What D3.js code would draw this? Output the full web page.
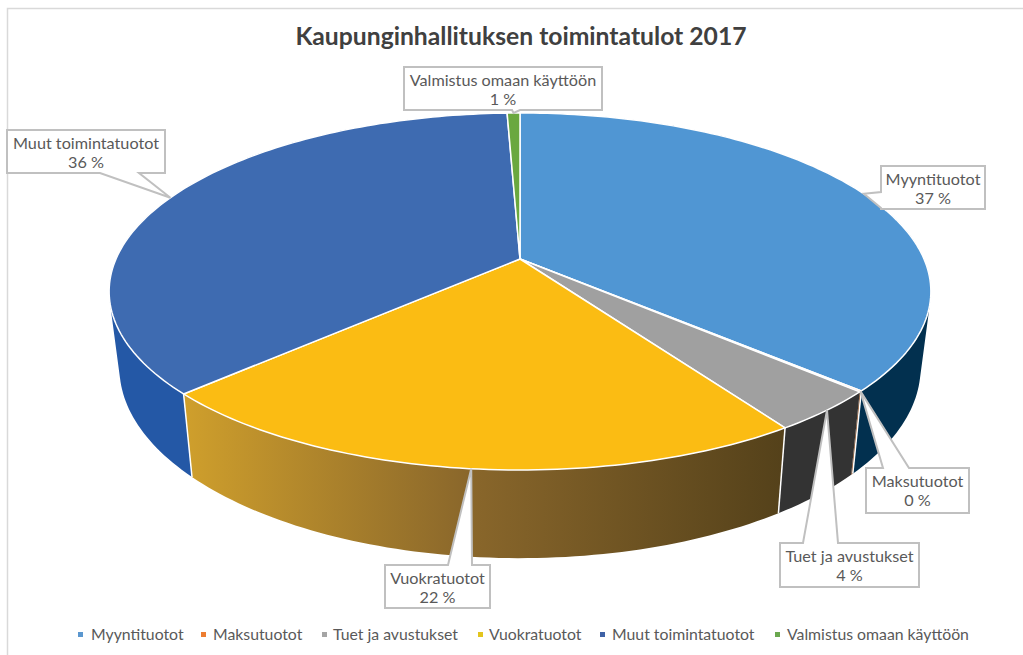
<!DOCTYPE html>
<html lang="fi">
<head>
<meta charset="utf-8">
<title>Kaupunginhallituksen toimintatulot 2017</title>
<script src="https://cdn.jsdelivr.net/npm/d3@7"></script>
<style>
  html, body { margin: 0; padding: 0; background: #fff; overflow: hidden; }
  text { font-family: Lato, "Open Sans", sans-serif; }
</style>
</head>
<body>
<div id="content"></div>
<script>
const titleText = 'Kaupunginhallituksen toimintatulot 2017';
const categories = ['Myyntituotot', 'Maksutuotot', 'Tuet ja avustukset', 'Vuokratuotot', 'Muut toimintatuotot', 'Valmistus omaan käyttöön'];
const values = [36.7, 0.1, 3.8, 22.4, 36.4, 0.6];

const topColors = ['#5096d3', '#ed7d31', '#a0a0a0', '#fbbc13', '#3e6bb1', '#6aa83f'];
const wallColors = ['#02304f', '#8a4a1c', '#333333', 'url(#wallYellow)', '#2458a6', '#3f6a25'];
const legendColors = ['#5b97cf', '#ed7d31', '#a5a5a5', '#e3c51e', '#3f62a6', '#6aa84f'];

// Laatikot: [x0, y0, x1, y1], ja osoittimen tyvi [xa, ya, xb, yb]
const labelBoxes = [
    [881, 166, 985, 209],
    [866, 468, 969, 513],
    [780, 543, 919, 587],
    [385, 565, 490, 608],
    [7, 130, 165, 173],
    [404, 67, 602, 110]
];
const pointerBases = [
    [881, 192, 881, 208],
    [883, 468, 909, 468],
    [803, 543, 838, 543],
    [448, 565, 472, 565],
    [100, 173, 139, 173],
    [512, 110, 520, 110]
];
// Osoittimen karki palan kulmavalilla
const pointerShare = [0.5, 0.5, 0.48, 0.49, 0.5, 0.5];
const legendMarkerX = [78, 201, 322, 478, 600, 775];
const legendTextX = [91, 213, 333, 489, 612, 787];

const width = 1023;
const height = 655;

// Perspektiivi: piirakan keskipiste on (cx, cy), reuna on ellipsi
const cx = 520, cy = 259;
const scaleX = 404, scaleY = 172.6, tilt = 0.182;
const wallShrinkX = 0.975, wallStretchY = 1.067, wallDrop = 74;

const project = angle => {
    const u = Math.sin(angle);
    const v = -Math.cos(angle);
    const w = 1 - tilt * v;
    return [cx + scaleX * u / w, cy + scaleY * v / w];
};
const lower = p => [cx + (p[0] - cx) * wallShrinkX, cy + (p[1] - cy) * wallStretchY + wallDrop];

const arcPoints = (a0, a1) => {
    const n = Math.max(2, Math.ceil((a1 - a0) / 0.02));
    return d3.range(n + 1).map(i => project(a0 + (a1 - a0) * i / n));
};

const slices = d3.pie().sort(null).value(d => d)(values);

const svg = d3.select('#content')
    .append('svg')
    .attr('width', width)
    .attr('height', height)
    .style('display', 'block');

const grad = svg.append('defs').append('linearGradient')
    .attr('id', 'wallYellow')
    .attr('gradientUnits', 'userSpaceOnUse')
    .attr('x1', 185).attr('x2', 785)
    .attr('y1', 0).attr('y2', 0);
grad.append('stop').attr('offset', '0%').attr('stop-color', '#cf9f2c');
grad.append('stop').attr('offset', '47%').attr('stop-color', '#8a672b');
grad.append('stop').attr('offset', '100%').attr('stop-color', '#54411a');

// Kehys
svg.append('path')
    .attr('d', `M7.5,${height}V8.5H${width}`)
    .attr('fill', 'none')
    .attr('stroke', '#d9d9d9')
    .attr('stroke-width', 1.5);

// Sivuseinat, jokainen pala samaan suuntaan jotta taytto ei kumoudu
svg.append('g')
    .selectAll('path')
    .data(slices)
    .enter()
    .append('path')
    .attr('fill', (d, i) => wallColors[i])
    .attr('d', d => {
        const pts = arcPoints(d.startAngle, d.endAngle);
        return d3.pairs(pts).map(([a, b]) => {
            let quad = [a, b, lower(b), lower(a)];
            if (d3.polygonArea(quad) < 0) quad = quad.reverse();
            return 'M' + quad.join('L') + 'Z';
        }).join('');
    });

// Valkoiset saumat seinissa
svg.append('g')
    .selectAll('line')
    .data(slices.filter(d => Math.cos(d.endAngle) < 0 && d.value > 1))
    .enter()
    .append('line')
    .attr('x1', d => project(d.endAngle)[0])
    .attr('y1', d => project(d.endAngle)[1])
    .attr('x2', d => lower(project(d.endAngle))[0])
    .attr('y2', d => lower(project(d.endAngle))[1])
    .attr('stroke', '#fff')
    .attr('stroke-width', 1.5);

// Kansi
svg.append('g')
    .selectAll('path')
    .data(slices)
    .enter()
    .append('path')
    .attr('fill', (d, i) => topColors[i])
    .attr('stroke', '#fff')
    .attr('stroke-width', 1.5)
    .attr('stroke-linejoin', 'round')
    .attr('d', d => 'M' + cx + ',' + cy + 'L' + arcPoints(d.startAngle, d.endAngle).join('L') + 'Z');

// Otsikko
svg.append('text')
    .attr('x', 521)
    .attr('y', 45)
    .attr('text-anchor', 'middle')
    .attr('fill', '#404040')
    .style('font-size', '24.7px')
    .style('font-weight', 'bold')
    .text(titleText);

function pointerSide(i) {
    const box = labelBoxes[i];
    const base = pointerBases[i];
    if (base[1] === box[1]) return 'top';
    if (base[1] === box[3]) return 'bottom';
    return 'left';
}

// Selitelaatikot, osoitin kohti palan keskikulmaa
const callouts = svg.append('g')
    .selectAll('g')
    .data(slices)
    .enter()
    .append('g');

callouts.append('path')
    .attr('fill', '#fff')
    .attr('stroke', '#c0c0c0')
    .attr('stroke-width', 2)
    .attr('stroke-linejoin', 'miter')
    .attr('d', (d, i) => {
        const [x0, y0, x1, y1] = labelBoxes[i];
        const [xa, ya, xb, yb] = pointerBases[i];
        const tip = project(d.startAngle + (d.endAngle - d.startAngle) * pointerShare[i]);
        const side = pointerSide(i);
        if (side === 'top') {
            return `M${x0},${y0}H${xa}L${tip}L${xb},${yb}H${x1}V${y1}H${x0}Z`;
        }
        if (side === 'bottom') {
            return `M${x0},${y0}H${x1}V${y1}H${xb}L${tip}L${xa},${ya}H${x0}Z`;
        }
        return `M${x0},${y0}H${x1}V${y1}H${x0}V${yb}L${tip}L${xa},${ya}Z`;
    });

callouts.append('text')
    .attr('x', (d, i) => (labelBoxes[i][0] + labelBoxes[i][2]) / 2)
    .attr('y', (d, i) => labelBoxes[i][1] + 19)
    .attr('text-anchor', 'middle')
    .attr('fill', '#595959')
    .style('font-size', '16.2px')
    .text((d, i) => categories[i]);

callouts.append('text')
    .attr('x', (d, i) => (labelBoxes[i][0] + labelBoxes[i][2]) / 2)
    .attr('y', (d, i) => labelBoxes[i][1] + 38)
    .attr('text-anchor', 'middle')
    .attr('fill', '#595959')
    .style('font-size', '16.2px')
    .text(d => Math.round(d.value) + ' %');

// Selite
const legend = svg.append('g')
    .selectAll('g')
    .data(categories)
    .enter()
    .append('g');

legend.append('rect')
    .attr('x', (d, i) => legendMarkerX[i])
    .attr('y', 632)
    .attr('width', 5)
    .attr('height', 5)
    .attr('fill', (d, i) => legendColors[i]);

legend.append('text')
    .attr('x', (d, i) => legendTextX[i])
    .attr('y', 640)
    .attr('fill', '#595959')
    .style('font-size', '15.8px')
    .text(d => d);
</script>
</body>
</html>
